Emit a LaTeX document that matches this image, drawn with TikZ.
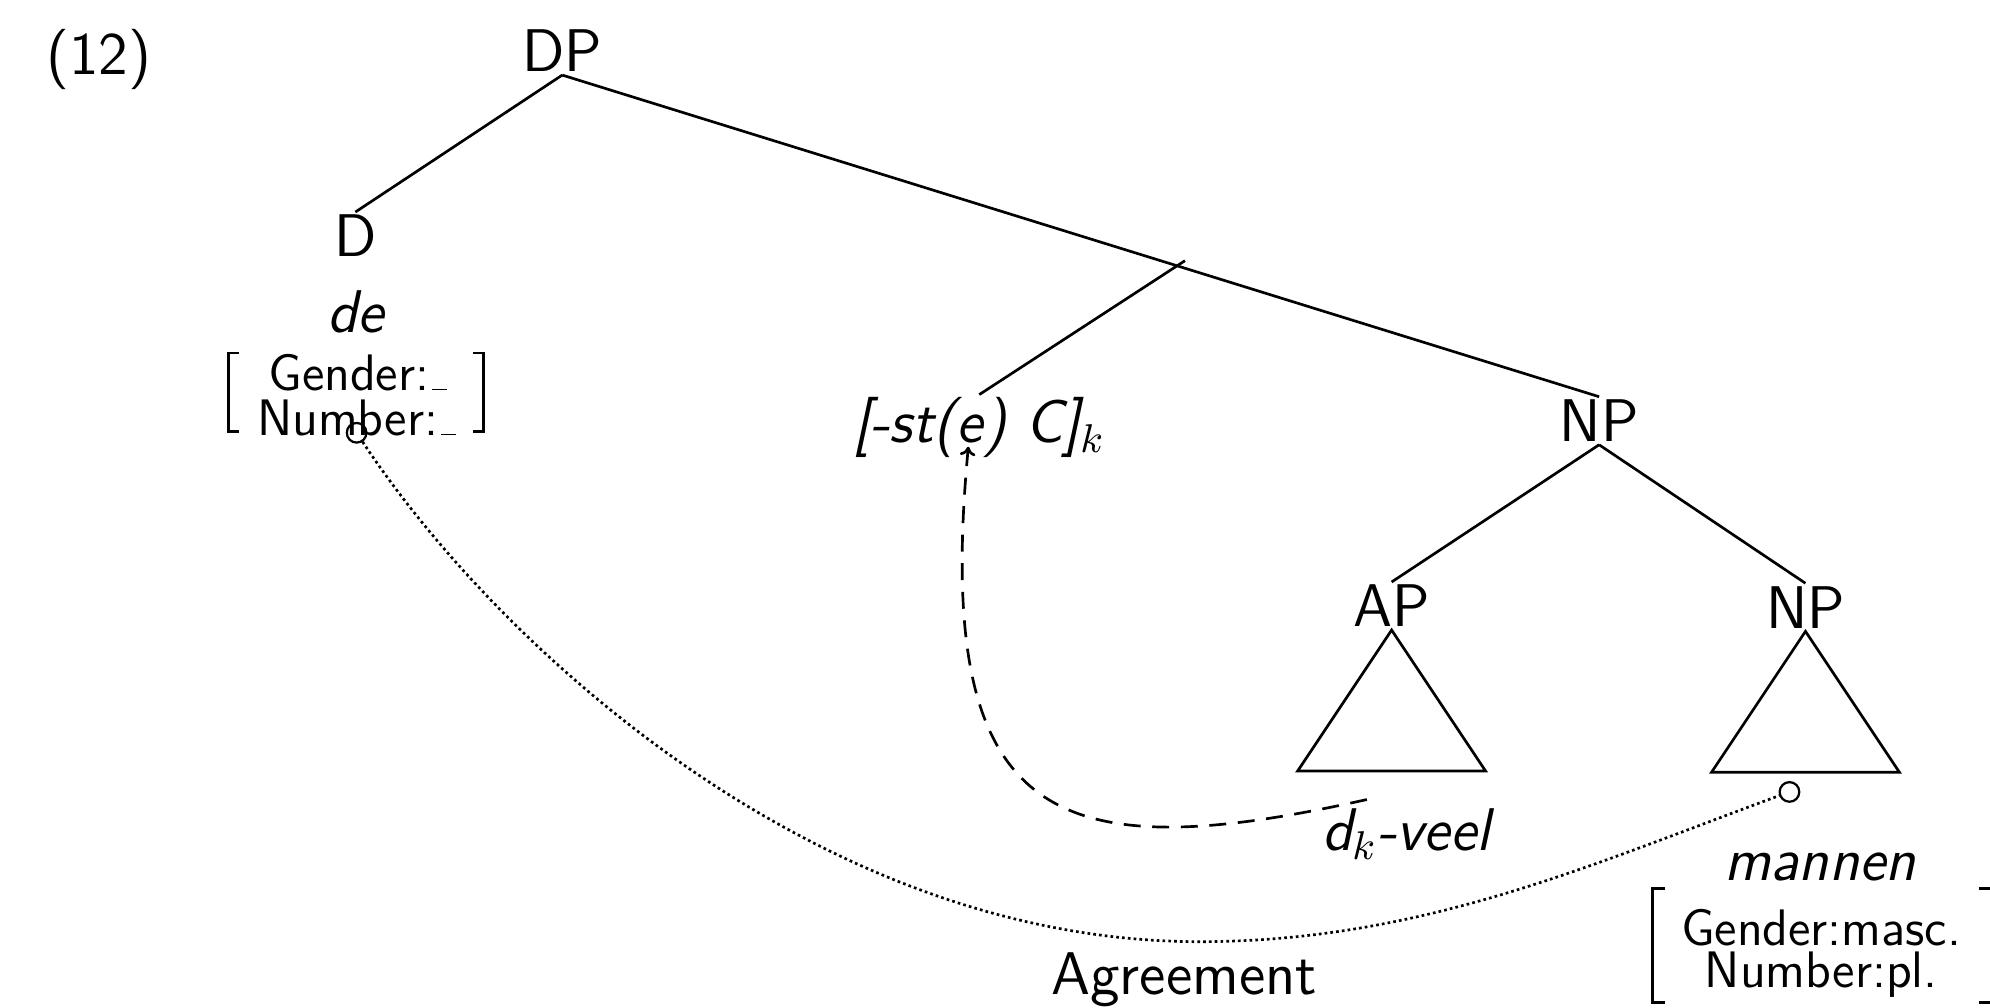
\documentclass[tikz,border=0pt]{standalone}
\usetikzlibrary{arrows.meta}
\newcommand\blank{\kern0.6pt\rule{3.4pt}{0.3pt}}
\tikzset{
  lab/.style={anchor=base, inner sep=0.5pt, font=\fontsize{13.5}{16}\selectfont\sffamily},
  feat/.style={anchor=base, inner sep=0pt, font=\fontsize{11.5}{13}\selectfont\sffamily},
  branch/.style={line width=0.6pt},
  brk/.style={line width=0.5pt},
  move/.style={line width=0.6pt, dash pattern=on 3.8pt off 2.6pt, -{To[length=2pt,width=3.5pt]}},
  agree/.style={line width=0.6pt, dash pattern=on 0.6pt off 0.7pt},
  dotc/.style={circle, draw, line width=0.5pt, minimum size=4.4pt, inner sep=0pt}
}
\begin{document}
\begin{tikzpicture}[x=0.01cm, y=-0.01cm]
\useasboundingbox (0,0) rectangle (1568,794);
% labels
\node[lab] (ex) at (78,59) {(12)};
\node[lab] (DP) at (443,56.7) {DP};
\node[lab] (D) at (280,202.5) {D};
\node[lab] (de) at (280,262) {\slshape de};
\node[feat] (gL1) at (282,307.5) {Gender:\blank};
\node[feat] (gL2) at (281,343) {Number:\blank};
\node[lab] (stC) at (771.6,349) {\slshape [-st(e) C]$_k$};
\node[lab] (NP) at (1260,348) {NP};
\node[lab] (AP) at (1096.5,494) {AP};
\node[lab] (NPb) at (1422.6,495) {NP};
\node[lab] (dk) at (1108,670) {\slshape d$_k$-veel};
\node[lab] (mannen) at (1434,694) {\slshape mannen};
\node[feat] (gR1) at (1435,745) {Gender:masc.};
\node[feat] (gR2) at (1435,778) {Number:pl.};
\node[lab] (agr) at (933,784) {Agreement};
\node[dotc] (cL) at (281,341) {};
\node[dotc] (cR) at (1410,624) {};
% tree
\draw[branch] (DP.south) -- (D.north);
\draw[branch] (DP.south) -- (NP.north);
\coordinate (adjTop) at (933.7,205.4);
\draw[branch] (adjTop) -- (stC.north);
\draw[branch] (NP.south) -- (AP.north);
\draw[branch] (NP.south) -- (NPb.north);
\draw[branch] (AP.south) -- ++(-74,111) -- ++(148,0) -- cycle;
\draw[branch] (NPb.south) -- ++(-74,111) -- ++(148,0) -- cycle;
% feature brackets
\draw[brk] (188,278) -- (180,278) -- (180,340) -- (188,340);
\draw[brk] (373,278) -- (381,278) -- (381,340) -- (373,340);
\draw[brk] (1312,700) -- (1302,700) -- (1302,790) -- (1312,790);
\draw[brk] (1559,700) -- (1569,700) -- (1569,790) -- (1559,790);
% movement
\coordinate (dTop) at (1077,630);
\coordinate (eTip) at (763,352);
\draw[move] (dTop) .. controls (830,685) and (735,650) .. (eTip);
% agreement
\coordinate (agLow) at (945,742);
\draw[agree] (cL) .. controls (392,509) and (645,742) .. (agLow) .. controls (1120,742) and (1254,681) .. (cR);
\end{tikzpicture}
\end{document}
